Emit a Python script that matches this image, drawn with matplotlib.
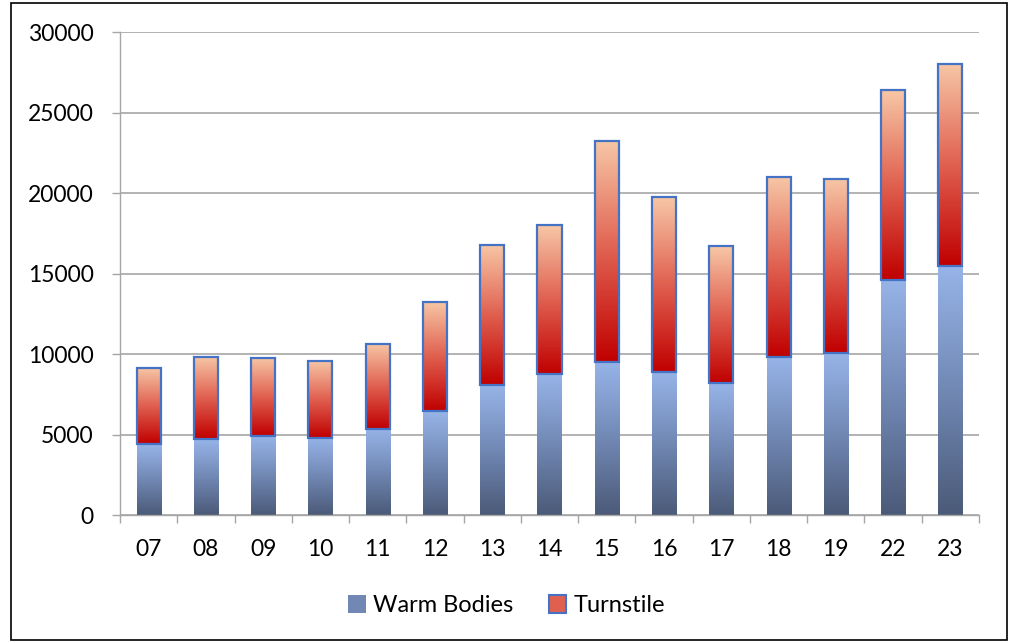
import numpy as np
import matplotlib.pyplot as plt
from matplotlib.colors import LinearSegmentedColormap
from matplotlib.patches import Patch, Rectangle

years = ["07", "08", "09", "10", "11", "12", "13", "14", "15", "16", "17", "18", "19", "22", "23"]
warm_bodies = [4400, 4700, 4900, 4800, 5350, 6450, 8050, 8750, 9500, 8900, 8200, 9800, 10050, 14600, 15450]
totals = [9150, 9800, 9750, 9600, 10650, 13250, 16750, 18000, 23250, 19750, 16700, 21000, 20900, 26400, 28000]
turnstile = [t - w for t, w in zip(totals, warm_bodies)]

plt.rcParams['font.family'] = ['Lato', 'DejaVu Sans']

fig = plt.figure(figsize=(10.13, 6.43), dpi=100)
ax = fig.add_axes([0.1185, 0.199, 0.8479, 0.751])

x = np.arange(len(years))
width = 0.42

blue_cmap = LinearSegmentedColormap.from_list("wb", ["#4b5a78", "#7188b4", "#97b4e8"])
red_cmap = LinearSegmentedColormap.from_list("ts", ["#c00000", "#e06050", "#f7c7a6"])
grad = np.linspace(0, 1, 256).reshape(-1, 1)

bars_wb = ax.bar(x, warm_bodies, width, facecolor="none", edgecolor="none", zorder=3)
bars_ts = ax.bar(x, turnstile, width, bottom=warm_bodies, facecolor="none",
                 edgecolor="#4472c4", linewidth=1.6, zorder=4)

for bars, cmap in [(bars_wb, blue_cmap), (bars_ts, red_cmap)]:
    for b in bars:
        x0, y0 = b.get_x(), b.get_y()
        ax.imshow(grad, extent=[x0, x0 + b.get_width(), y0, y0 + b.get_height()],
                  origin="lower", cmap=cmap, aspect="auto", zorder=2.5,
                  interpolation="bilinear")

ax.set_xlim(-0.5, len(years) - 0.5)
ax.set_ylim(0, 30000)
ax.set_yticks(range(0, 30001, 5000))
ax.set_xticks(x)
ax.set_xticklabels(years)
ax.set_xticks(np.arange(-0.5, len(years)), minor=True)
ax.tick_params(axis="x", which="major", length=0, pad=17, labelsize=16.5)
ax.tick_params(axis="x", which="minor", length=6, color="#a6a6a6", width=1)
ax.tick_params(axis="y", length=6, color="#a6a6a6", width=1, pad=13, labelsize=16.5)

ax.grid(axis="y", color="#a6a6a6", linewidth=1.2, zorder=0)
ax.set_axisbelow(True)
for s in ["top", "right"]:
    ax.spines[s].set_visible(False)
for s in ["left", "bottom"]:
    ax.spines[s].set_color("#a6a6a6")
    ax.spines[s].set_linewidth(1)

handles = [Patch(facecolor="#7188b4", edgecolor="none", label="Warm Bodies"),
           Patch(facecolor="#e06050", edgecolor="#4472c4", linewidth=1.5, label="Turnstile")]
fig.legend(handles=handles, loc="center", bbox_to_anchor=(0.5, 0.058), ncol=2,
           frameon=False, fontsize=17, handlelength=0.75, handleheight=0.75,
           handletextpad=0.3, columnspacing=1.5)

fig.patches.append(Rectangle((0.0105, 0.004), 0.984, 0.991, transform=fig.transFigure,
                             fill=False, edgecolor="black", linewidth=1.2))

fig.savefig("out.png", dpi=100)
